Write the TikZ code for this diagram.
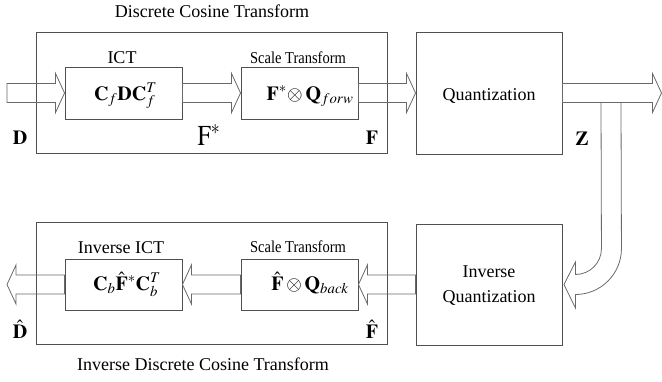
\documentclass[tikz,border=0pt]{standalone}
\usepackage{mathptmx}
\usepackage{fontspec}
\setmainfont{Liberation Serif}
\usetikzlibrary{calc}

\definecolor{boxgray}{RGB}{80,80,80}
\definecolor{flowgray}{RGB}{105,105,105}

% Hollow block arrow from #1 (start) to #2 (tip); #3 = 1 points right, -1 points left
\newcommand{\hollowarrow}[3]{%
  \draw[flow] ($(#1)+(0,-9.5)$) -- ($(#2)+({-9*(#3)},-9.5)$)
    -- ($(#2)+({-9*(#3)},-19.5)$) -- (#2)
    -- ($(#2)+({-9*(#3)},19.5)$) -- ($(#2)+({-9*(#3)},9.5)$)
    -- ($(#1)+(0,9.5)$) -- cycle;}

% vertically stretched text
\newcommand{\tallstretch}[1]{\scalebox{1}[1.15]{#1}}

\tikzset{
  blockbox/.style={draw=boxgray, line width=0.9pt, inner sep=0pt},
  flow/.style={draw=flowgray, line width=0.8pt, line join=miter},
  lbl/.style={inner sep=0pt, anchor=base, font=\fontsize{18}{21}\selectfont},
  smalllbl/.style={inner sep=0pt, anchor=base, font=\fontsize{14.5}{17}\selectfont},
  mathlbl/.style={inner sep=0pt, anchor=base, font=\fontsize{20}{24}\selectfont},
  siglbl/.style={inner sep=0pt, anchor=base, font=\fontsize{20}{24}\selectfont},
}

\begin{document}
\begin{tikzpicture}[x=1pt, y=-1pt]
\useasboundingbox (0,0) rectangle (662,381);

% ---- forward path ----
\node[blockbox, minimum width=351pt, minimum height=121pt] (dct) at (211.5,92.5) {};
\node[blockbox, minimum width=117pt, minimum height=52pt] (ict) at (123.5,93) {};
\node[blockbox, minimum width=117pt, minimum height=52pt] (sf) at (299.5,93) {};
\node[blockbox, minimum width=146pt, minimum height=122pt] (quant) at (489,93) {};

\node[lbl] (tdct) at (212,17.5) {Discrete Cosine Transform};
\node[lbl] (tict) at (122,63) {ICT};
\node[smalllbl] (tsf) at (298,63) {\tallstretch{Scale Transform}};
\node[lbl] (tq) at (489,100) {Quantization};

\node[mathlbl] (mict) at (125.5,100) {$\mathbf{C}_{f}\mathbf{D}\mathbf{C}_{f}^{T}$};
\node[mathlbl] (msf) at (310,100) {$\mathbf{F}^{*}\!\otimes\mathbf{Q}_{forw}$};

\node[siglbl] (sd) at (20,144) {$\mathbf{D}$};
\node[inner sep=0pt, anchor=base, font=\fontsize{24}{28}\selectfont] (sfs) at (209,145) {\scalebox{1}[1.2]{$\mathrm{F}^{*}$}};
\node[siglbl] (sfo) at (372,144) {$\mathbf{F}$};
\node[siglbl] (sz) at (582,145) {$\mathbf{Z}$};

\coordinate (din) at (7,93);
\coordinate (zout) at (661.5,93);
\coordinate (ztap) at (611,102.5);

\hollowarrow{din}{ict.west}{1}
\hollowarrow{ict.east}{sf.west}{1}
\hollowarrow{sf.east}{quant.west}{1}
\hollowarrow{quant.east}{zout}{1}

% ---- inverse path ----
\node[blockbox, minimum width=351pt, minimum height=122pt] (idct) at (211.5,283) {};
\node[blockbox, minimum width=117pt, minimum height=51pt] (iict) at (123.5,284.5) {};
\node[blockbox, minimum width=117pt, minimum height=51pt] (isf) at (299.5,284.5) {};
\node[blockbox, minimum width=146pt, minimum height=121pt] (iq) at (489,284.5) {};

\node[lbl] (tiict) at (121,253) {Inverse ICT};
\node[smalllbl] (tisf) at (298,252) {\tallstretch{Scale Transform}};
\node[lbl] (tiq1) at (489,277) {Inverse};
\node[lbl] (tiq2) at (489,302) {Quantization};
\node[lbl] (tidct) at (203,370) {Inverse Discrete Cosine Transform};

\node[mathlbl] (miict) at (127,290) {$\mathbf{C}_{b}\hat{\mathbf{F}}^{*}\mathbf{C}_{b}^{T}$};
\node[mathlbl] (misf) at (310,290) {$\hat{\mathbf{F}}\otimes\mathbf{Q}_{back}$};

\node[siglbl] (sdh) at (20,338) {$\hat{\mathbf{D}}$};
\node[siglbl] (sfh) at (372,338) {$\hat{\mathbf{F}}$};

\coordinate (dout) at (7,284.5);

\hollowarrow{iq.west}{isf.east}{-1}
\hollowarrow{isf.west}{iict.east}{-1}
\hollowarrow{iict.west}{dout}{-1}

% ---- feedback tube from the output down into the inverse quantizer ----
\draw[flow]
  ($(ztap)+(-10,0)$) -- ($(iq.east)+(39,-36)$)
  .. controls ($(iq.east)+(39,-21.6)$) and ($(iq.east)+(27.4,-10)$) .. ($(iq.east)+(13,-10)$)
  -- ($(iq.east)+(13,-22.5)$) -- ($(iq.east)+(1.5,0)$) -- ($(iq.east)+(13,23.5)$)
  -- ($(iq.east)+(13,10)$)
  .. controls ($(iq.east)+(38.4,10)$) and ($(iq.east)+(59,-10.6)$) .. ($(iq.east)+(59,-36)$)
  -- ($(ztap)+(10,0)$) -- cycle;
\end{tikzpicture}
\end{document}
